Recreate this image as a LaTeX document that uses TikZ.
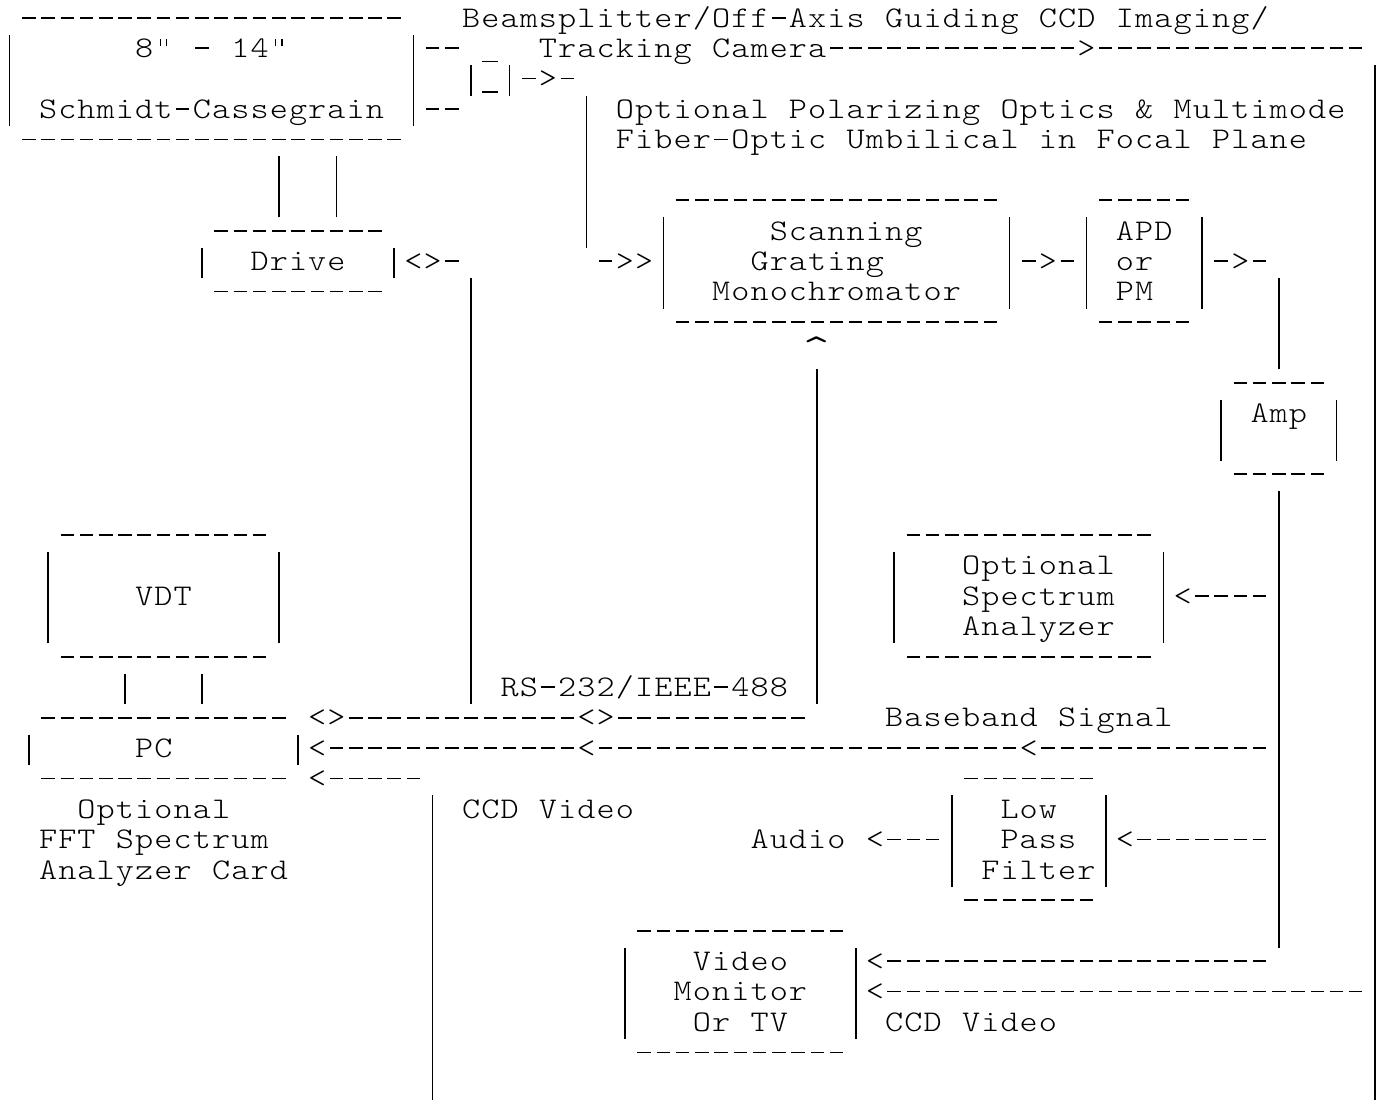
\documentclass[tikz,border=0pt]{standalone}
\usepackage{graphicx}

% Character grid (1px = 0.5pt): column pitch, line pitch and stroke sizes
\newlength\cw        \setlength\cw{9.615pt}
\newlength\lh        \setlength\lh{15.215pt}
\newlength\bardp     \setlength\bardp{3.85pt}
\newlength\barwd     \setlength\barwd{0.8pt}
\newlength\strokewd  \setlength\strokewd{0.85pt}
\newlength\dashlen   \setlength\dashlen{6.75pt}
\newlength\dashraise \setlength\dashraise{4.2pt}

\newcommand\artfont{\ttfamily\fontseries{l}\upshape\fontsize{15pt}{15pt}\selectfont}
% one cell of the grid for each kind of character
\newcommand\artglyph[1]{\makebox[\cw][c]{\artfont\scalebox{1.15}[1]{#1}}}
\newcommand\artbar{\makebox[\cw][c]{\rule[-\bardp]{\barwd}{\lh}}}
\newcommand\artdash{\makebox[\cw][c]{\rule[\dashraise]{\dashlen}{\strokewd}}}
\newcommand\artunder{\makebox[\cw][c]{\rule[-2.45pt]{8pt}{\strokewd}}}
\newcommand\artquote{\makebox[\cw][c]{\rule[5.6pt]{0.75pt}{3.8pt}\hspace{2.4pt}\rule[5.6pt]{0.75pt}{3.8pt}}}
\newcommand\artcaret{\makebox[\cw][c]{\raisebox{-3.2pt}{\artfont\scalebox{1.7}{\char"5E}}}}
\newcommand\artamp{\makebox[\cw][c]{\artfont\scalebox{1.15}[1]{\&}}}

\ExplSyntaxOn
\cs_new_protected:Npn \art_cell:n #1
  {
    \str_case:nnF {#1}
      {
        { | } { \artbar }
        { - } { \artdash }
        { _ } { \artunder }
        { " } { \artquote }
        { ^ } { \artcaret }
        { & } { \artamp }
      }
      { \artglyph {#1} }
  }
\cs_new_protected:Npn \artline #1
  { \tl_map_function:nN {#1} \art_cell:n }
\ExplSyntaxOff

\tikzset{artrowstyle/.style={anchor=base west, inner sep=0pt, outer sep=0pt}}

% \artrow{n}{text}: one line of the chart, spaces kept as grid cells
\newcommand\artrow[1]{\begingroup\catcode32=12 \artrowread{#1}}
\newcommand\artrowread[2]{\endgroup
  \node[artrowstyle] (row#1) at (0pt,{-13.5pt-#1*\lh}) {\artline{#2}};}

\begin{document}
\begin{tikzpicture}
\fill[white] (0,0) rectangle (688.5pt,-555pt);
\path[use as bounding box] (0,0) rectangle (688.5pt,-555pt);
\artrow{0}{ --------------------   Beamsplitter/Off-Axis Guiding CCD Imaging/}
\artrow{1}{|      8" - 14"      |-- _  Tracking Camera------------->--------------}
\artrow{2}{|                    |  |_|->-                                         |}
\artrow{3}{| Schmidt-Cassegrain |--      | Optional Polarizing Optics & Multimode |}
\artrow{4}{ --------------------         | Fiber-Optic Umbilical in Focal Plane   |}
\artrow{5}{              |  |            |                                        |}
\artrow{6}{              |  |            |    -----------------     -----         |}
\artrow{7}{           ---------          |   |     Scanning    |   | APD |        |}
\artrow{8}{          |  Drive  |<>-       ->>|    Grating      |->-| or  |->-     |}
\artrow{9}{           ---------    |         |  Monochromator  |   | PM  |   |    |}
\artrow{10}{                        |          -----------------     -----    |    |}
\artrow{11}{                        |                 ^                       |    |}
\artrow{12}{                        |                 |                     -----  |}
\artrow{13}{                        |                 |                    | Amp | |}
\artrow{14}{                        |                 |                    |     | |}
\artrow{15}{                        |                 |                     -----  |}
\artrow{16}{                        |                 |                       |    |}
\artrow{17}{   -----------          |                 |    -------------      |    |}
\artrow{18}{  |           |         |                 |   |   Optional  |     |    |}
\artrow{19}{  |    VDT    |         |                 |   |   Spectrum  |<----|    |}
\artrow{20}{  |           |         |                 |   |   Analyzer  |     |    |}
\artrow{21}{   -----------          |                 |    -------------      |    |}
\artrow{22}{      |   |             | RS-232/IEEE-488 |                       |    |}
\artrow{23}{  ------------- <>------------<>----------    Baseband Signal     |    |}
\artrow{24}{ |     PC      |<-------------<----------------------<------------|    |}
\artrow{25}{  ------------- <-----                            -------         |    |}
\artrow{26}{    Optional          | CCD Video                |  Low  |        |    |}
\artrow{27}{  FFT Spectrum        |                Audio <---|  Pass |<-------|    |}
\artrow{28}{  Analyzer Card       |                          | Filter|        |    |}
\artrow{29}{                      |                           -------         |    |}
\artrow{30}{                      |          -----------                      |    |}
\artrow{31}{                      |         |   Video   |<--------------------     |}
\artrow{32}{                      |         |  Monitor  |<-------------------------|}
\artrow{33}{                      |         |   Or TV   | CCD Video                |}
\artrow{34}{                      |          -----------                           |}
\artrow{35}{                      |                                                |}
\end{tikzpicture}
\end{document}
